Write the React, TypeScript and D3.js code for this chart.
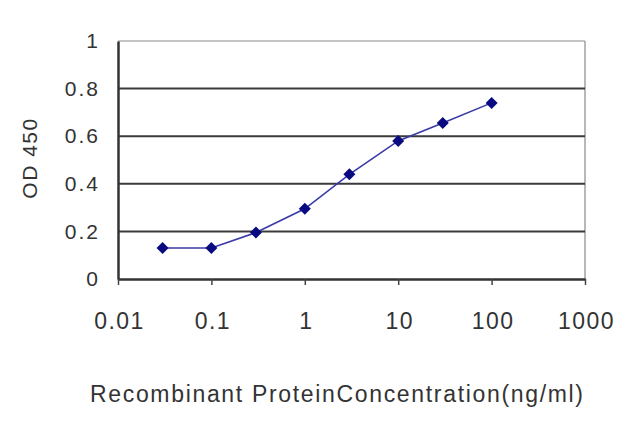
import React, { useEffect, useRef } from 'react';
import * as d3 from 'd3';

const concentrations = [0.03, 0.1, 0.3, 1, 3, 10, 30, 100];
const odValues = [0.13, 0.13, 0.195, 0.295, 0.44, 0.58, 0.655, 0.74];
const xTicks = [0.01, 0.1, 1, 10, 100, 1000];
const xTickLabels = ['0.01', '0.1', '1', '10', '100', '1000'];
const yTicks = [0, 0.2, 0.4, 0.6, 0.8, 1];
const yTickLabels = ['0', '0.2', '0.4', '0.6', '0.8', '1'];

const App: React.FC = () => {
  const svgRef = useRef<SVGSVGElement | null>(null);

  useEffect(() => {
    const w = 640;
    const h = 427;
    const left = 118;
    const right = 585;
    const top = 41;
    const bottom = 279;
    const font = 'Liberation Sans, Arial, sans-serif';

    const svg = d3.select(svgRef.current)
      .attr('width', w)
      .attr('height', h)
      .style('background', '#ffffff');
    svg.selectAll('*').remove();

    const x = d3.scaleLog().domain([0.01, 1000]).range([left, right]);
    const y = d3.scaleLinear().domain([0, 1]).range([bottom, top]);

    // frame: light top and right
    svg.append('line')
      .attr('x1', left).attr('x2', right).attr('y1', top).attr('y2', top)
      .attr('stroke', '#b0b0b0').attr('stroke-width', 1.5);
    svg.append('line')
      .attr('x1', right).attr('x2', right).attr('y1', top).attr('y2', bottom)
      .attr('stroke', '#a0a0a0').attr('stroke-width', 1.5);

    // gridlines
    svg.append('g')
      .selectAll('line')
      .data(yTicks.filter((d) => d > 0 && d < 1))
      .join('line')
      .attr('x1', left)
      .attr('x2', right)
      .attr('y1', (d) => y(d))
      .attr('y2', (d) => y(d))
      .attr('stroke', '#3a3a3a')
      .attr('stroke-width', 2);

    // axes
    const yAxis = d3.axisLeft(y)
      .tickValues(yTicks)
      .tickSize(0)
      .tickPadding(18)
      .tickFormat((d, i) => yTickLabels[i]);
    const gy = svg.append('g').attr('transform', `translate(${left},0)`).call(yAxis);
    gy.select('.domain').attr('stroke', '#333').attr('stroke-width', 2.5);
    gy.selectAll('text')
      .attr('font-family', font)
      .attr('font-size', 21)
      .attr('letter-spacing', 2)
      .attr('fill', '#333');

    const xAxis = d3.axisBottom(x)
      .tickValues(xTicks)
      .tickSize(6)
      .tickSizeOuter(0)
      .tickPadding(28)
      .tickFormat((d, i) => xTickLabels[i]);
    const gx = svg.append('g').attr('transform', `translate(0,${bottom})`).call(xAxis);
    gx.select('.domain').attr('stroke', '#333').attr('stroke-width', 2.5);
    gx.selectAll('.tick line').attr('stroke', '#444').attr('stroke-width', 1.5);
    gx.selectAll('text')
      .attr('font-family', font)
      .attr('font-size', 23)
      .attr('letter-spacing', 1.5)
      .attr('dx', 1)
      .attr('fill', '#333');

    // line
    const line = d3.line<number>()
      .x((d, i) => x(concentrations[i]))
      .y((d) => y(d));
    svg.append('path')
      .datum(odValues)
      .attr('fill', 'none')
      .attr('stroke', '#3a3aa8')
      .attr('stroke-width', 1.6)
      .attr('d', line);

    // markers
    const diamond = d3.symbol().type(d3.symbolSquare).size(72);
    svg.append('g')
      .selectAll('path')
      .data(odValues)
      .join('path')
      .attr('transform', (d, i) => `translate(${x(concentrations[i])},${y(d)}) rotate(45)`)
      .attr('d', diamond)
      .attr('fill', '#0a0a80');

    // axis titles
    svg.append('text')
      .attr('transform', `translate(37,158) rotate(-90)`)
      .attr('text-anchor', 'middle')
      .attr('font-family', font)
      .attr('font-size', 21)
      .attr('letter-spacing', 1.5)
      .attr('fill', '#333')
      .text('OD 450');

    svg.append('text')
      .attr('x', 90)
      .attr('y', 402)
      .attr('textLength', 493)
      .attr('lengthAdjust', 'spacing')
      .attr('font-family', font)
      .attr('font-size', 23)
      .attr('fill', '#333')
      .text('Recombinant ProteinConcentration(ng/ml)');
  }, []);

  return <svg ref={svgRef} style={{ position: 'absolute', left: 0, top: 0 }}></svg>;
};

export default App;
